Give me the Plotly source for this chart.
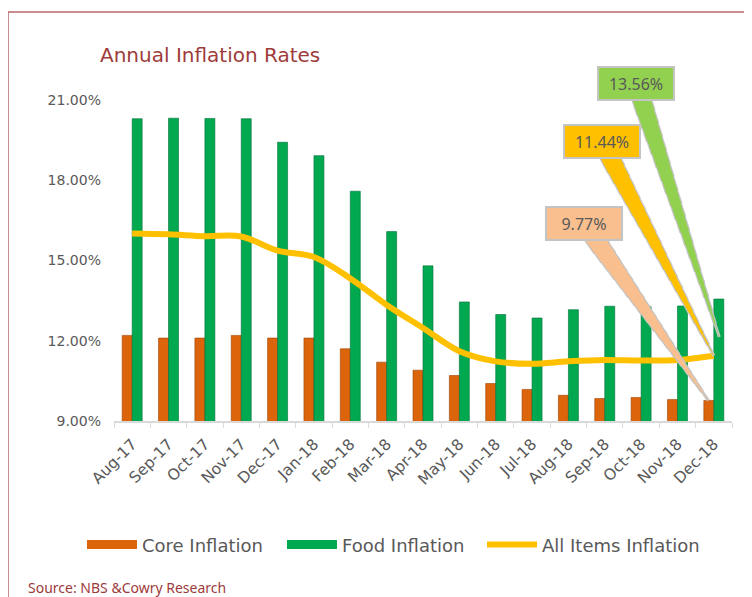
import math
import plotly.graph_objects as go

# Annual inflation rates (%), NBS
months = ['Aug-17', 'Sep-17', 'Oct-17', 'Nov-17', 'Dec-17', 'Jan-18', 'Feb-18', 'Mar-18',
          'Apr-18', 'May-18', 'Jun-18', 'Jul-18', 'Aug-18', 'Sep-18', 'Oct-18', 'Nov-18', 'Dec-18']
core = [12.20, 12.10, 12.10, 12.20, 12.10, 12.10, 11.70, 11.20, 10.90, 10.70,
        10.40, 10.18, 9.96, 9.84, 9.88, 9.80, 9.77]
food = [20.30, 20.32, 20.31, 20.30, 19.42, 18.92, 17.59, 16.08, 14.80, 13.45,
        12.98, 12.85, 13.16, 13.29, 13.28, 13.30, 13.56]
headline = [16.01, 15.98, 15.91, 15.90, 15.37, 15.13, 14.33, 13.34, 12.48, 11.61,
            11.23, 11.14, 11.23, 11.28, 11.26, 11.28, 11.44]
y_ticks = [9, 12, 15, 18, 21]

CORE_C = '#DC650B'
FOOD_C = '#00A84F'
LINE_C = '#FFC000'
RED = '#9E3B3B'
GREY_TXT = '#595959'

fig = go.Figure()
fig.add_trace(go.Bar(x=months, y=core, name='Core Inflation', marker_color=CORE_C,
                     marker_line=dict(color='#9A4306', width=0.6), showlegend=False))
fig.add_trace(go.Bar(x=months, y=food, name='Food Inflation', marker_color=FOOD_C,
                     marker_line=dict(color='#00703A', width=0.6), showlegend=False))
fig.add_trace(go.Scatter(x=months, y=headline, name='All Items Inflation', mode='lines',
                         line=dict(color=LINE_C, width=6, shape='spline', smoothing=1),
                         showlegend=False))

# legend-only entries so the swatches look like wide bars, one legend box each
legend_items = [('Core Inflation', CORE_C, 'legend', -0.0518),
                ('Food Inflation', FOOD_C, 'legend2', 0.2718),
                ('All Items Inflation', LINE_C, 'legend3', 0.5955)]
for nm, c, lg, _ in legend_items:
    fig.add_trace(go.Scatter(x=[months[-1]], y=[None], name=nm, mode='lines', legend=lg,
                             line=dict(color=c, width=9 if c != LINE_C else 6)))

# callouts: (text, value, fill, xshift, yshift, ax, ay)
callouts = [
    ('9.77%', core[-1], '#F9BF8F', -5.5, 0, -124, -177),
    ('11.44%', headline[-1], LINE_C, 0, 0, -112, -214),
    ('13.56%', food[-1], '#92D050', 5.5, -38, -83, -254),
]
BOX_H = 33
BASE_W = 18
STEPS = 18
for txt, val, fill, xs, ys, ax, ay in callouts:
    d = math.hypot(ax, ay)
    vis = d * (1 - (BOX_H / 2) / abs(ay))
    for colr, extra in [('#C4C4C4', 2.5), (fill, 0)]:
        for k in range(STEPS):
            w = BASE_W * (k + 0.5) / STEPS + extra
            fig.add_annotation(x=months[-1], y=val, xshift=xs, yshift=ys, ax=ax, ay=ay,
                               text='', showarrow=True, arrowhead=0, arrowwidth=w,
                               arrowcolor=colr, standoff=vis * k / STEPS)
    fig.add_annotation(x=months[-1], y=val, xshift=xs, yshift=ys, ax=ax, ay=ay,
                       text=txt, showarrow=True, arrowhead=0, arrowwidth=0.1,
                       arrowcolor='rgba(0,0,0,0)', bgcolor=fill, bordercolor='#C4C4C4',
                       borderwidth=2, borderpad=3, width=68, height=25,
                       font=dict(family='Noto Sans', size=16, color=GREY_TXT))

fig.add_annotation(text='Annual Inflation Rates', xref='paper', yref='paper', x=-0.026, y=1.14,
                   xanchor='left', yanchor='middle', showarrow=False,
                   font=dict(family='DejaVu Sans', size=20, color=RED))
fig.add_annotation(text='Source: NBS &Cowry Research', xref='paper', yref='paper', x=-0.142, y=-0.518,
                   xanchor='left', yanchor='middle', showarrow=False,
                   font=dict(family='Noto Sans', size=14, color=RED))

fig.add_shape(type='rect', xref='paper', yref='paper', x0=-0.1715, x1=1.2, y0=-0.8, y1=1.274,
              line=dict(color='#B86B6B', width=1.5), layer='below')

legend_style = dict(orientation='h', xanchor='left', y=-0.386, yanchor='middle',
                    font=dict(size=18, color=GREY_TXT), itemwidth=50, bgcolor='rgba(0,0,0,0)')

# page body has an 8px margin, so the figure is drawn 8px smaller and offset
fig.update_layout(
    width=744, height=589,
    margin=dict(l=106, r=20, t=92, b=176),
    paper_bgcolor='white', plot_bgcolor='white',
    barmode='group', bargap=0.45, bargroupgap=0,
    font=dict(family='DejaVu Sans', color=GREY_TXT),
    xaxis=dict(type='category', range=[-0.5, len(months) - 0.5], showline=True,
               linecolor='#D9D9D9', linewidth=2,
               ticks='outside', tickson='boundaries', ticklen=5, tickcolor='#D9D9D9',
               tickangle=-45, tickfont=dict(size=15.5, color=GREY_TXT), ticklabelstandoff=6,
               showgrid=False),
    yaxis=dict(range=[9, 21], tickvals=y_ticks, ticktext=['%.2f%%' % v for v in y_ticks],
               showgrid=False, zeroline=False, showline=False,
               tickfont=dict(size=14, color=GREY_TXT), ticklabelstandoff=12),
    legend=dict(x=legend_items[0][3], **legend_style),
    legend2=dict(x=legend_items[1][3], **legend_style),
    legend3=dict(x=legend_items[2][3], **legend_style),
)

fig.write_html('out.html')
